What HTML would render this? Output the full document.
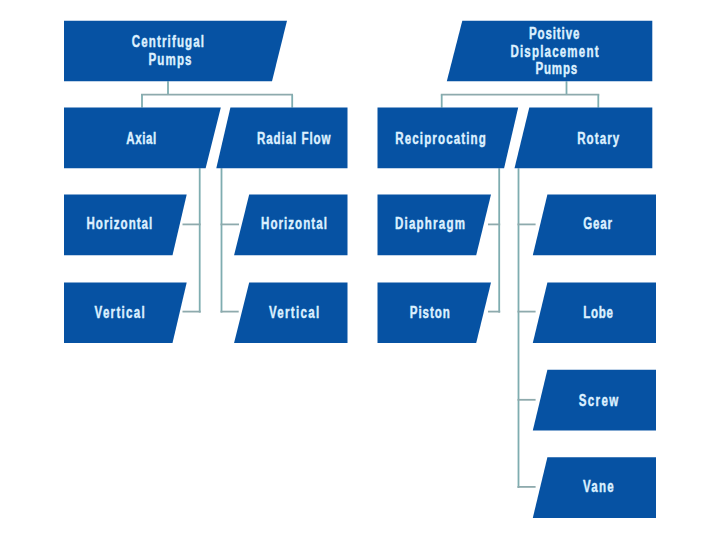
<!DOCTYPE html>
<html><head><meta charset="utf-8"><title>Pump Types</title>
<style>
html,body{margin:0;padding:0;background:#fff;}
body{width:720px;height:539px;overflow:hidden;}
svg{display:block;}
</style></head><body>
<svg width="720" height="539" viewBox="0 0 720 539">
<rect width="720" height="539" fill="#ffffff"/>
<g stroke="#7fadb0" stroke-width="1.8" fill="none">
<line x1="168" y1="81.3" x2="168" y2="94.7"/>
<line x1="141" y1="94.7" x2="293" y2="94.7" stroke="#8eaaad"/>
<line x1="142" y1="94.7" x2="142" y2="107.6"/>
<line x1="292.2" y1="94.7" x2="292.2" y2="107.6"/>
<line x1="566.5" y1="81.3" x2="566.5" y2="94.7"/>
<line x1="440.8" y1="94.7" x2="599.3" y2="94.7" stroke="#8eaaad"/>
<line x1="441.7" y1="94.7" x2="441.7" y2="107.6"/>
<line x1="598.3" y1="94.7" x2="598.3" y2="107.6"/>
<line x1="199.7" y1="168.2" x2="199.7" y2="312.6"/>
<line x1="182.5" y1="224.4" x2="200.7" y2="224.4" stroke="#8eaaad"/>
<line x1="182.5" y1="311.6" x2="200.7" y2="311.6" stroke="#8eaaad"/>
<line x1="221.5" y1="168.2" x2="221.5" y2="312.6"/>
<line x1="220.5" y1="224.4" x2="239" y2="224.4" stroke="#8eaaad"/>
<line x1="220.5" y1="311.6" x2="238.7" y2="311.6" stroke="#8eaaad"/>
<line x1="499.2" y1="168.2" x2="499.2" y2="312.6"/>
<line x1="488" y1="224.4" x2="500.2" y2="224.4" stroke="#8eaaad"/>
<line x1="488" y1="311.6" x2="500.2" y2="311.6" stroke="#8eaaad"/>
<line x1="518.5" y1="168.2" x2="518.5" y2="487.9"/>
<line x1="517.5" y1="224.4" x2="535.6" y2="224.4" stroke="#8eaaad"/>
<line x1="517.5" y1="311.6" x2="535.6" y2="311.6" stroke="#8eaaad"/>
<line x1="517.5" y1="399.8" x2="535.6" y2="399.8" stroke="#8eaaad"/>
<line x1="517.5" y1="486.9" x2="535.6" y2="486.9" stroke="#8eaaad"/>
</g>
<g fill="#0652a3">
<polygon points="64,20.7 287,20.7 272,81.3 64,81.3"/>
<polygon points="462.3,20.7 652.3,20.7 652.3,81.3 446.8,81.3"/>
<polygon points="64,107.6 220.8,107.6 205.6,168.2 64,168.2"/>
<polygon points="230.4,107.6 347.5,107.6 347.5,168.2 216.3,168.2"/>
<polygon points="377.5,107.6 518.2,107.6 504.1,168.2 377.5,168.2"/>
<polygon points="529.3,107.6 652.3,107.6 652.3,168.2 514.5,168.2"/>
<polygon points="64,194.6 186.7,194.6 172.5,255.2 64,255.2"/>
<polygon points="249.2,194.6 347.5,194.6 347.5,255.2 234.1,255.2"/>
<polygon points="377.5,194.6 491,194.6 476.2,255.2 377.5,255.2"/>
<polygon points="64,282.4 186.7,282.4 172.5,343.0 64,343.0"/>
<polygon points="249.2,282.4 347.5,282.4 347.5,343.0 234.1,343.0"/>
<polygon points="377.5,282.4 491,282.4 476.2,343.0 377.5,343.0"/>
<polygon points="547.4,194.6 656,194.6 656,255.2 532.8,255.2"/>
<polygon points="547.4,282.4 656,282.4 656,343.0 532.8,343.0"/>
<polygon points="547.4,369.8 656,369.8 656,430.40000000000003 532.8,430.40000000000003"/>
<polygon points="547.4,457.3 656,457.3 656,517.9 532.8,517.9"/>
</g>
<g fill="#dcf0ff" font-family="Liberation Sans, sans-serif" font-weight="bold" font-size="17" stroke="#dcf0ff" stroke-width="0.45">
<text transform="scale(0.68,1)" x="193.82" y="47" textLength="106.18" lengthAdjust="spacing">Centrifugal</text>
<text transform="scale(0.68,1)" x="218.38" y="65" textLength="63.24" lengthAdjust="spacing">Pumps</text>
<text transform="scale(0.68,1)" x="777.94" y="39" textLength="74.12" lengthAdjust="spacing">Positive</text>
<text transform="scale(0.68,1)" x="750.59" y="57" textLength="129.56" lengthAdjust="spacing">Displacement</text>
<text transform="scale(0.68,1)" x="787.35" y="74" textLength="61.47" lengthAdjust="spacing">Pumps</text>
<text transform="scale(0.68,1)" x="185.74" y="144" textLength="44.12" lengthAdjust="spacing">Axial</text>
<text transform="scale(0.68,1)" x="377.79" y="144" textLength="108.38" lengthAdjust="spacing">Radial Flow</text>
<text transform="scale(0.68,1)" x="581.32" y="144" textLength="133.09" lengthAdjust="spacing">Reciprocating</text>
<text transform="scale(0.68,1)" x="848.82" y="144" textLength="61.76" lengthAdjust="spacing">Rotary</text>
<text transform="scale(0.68,1)" x="127.21" y="229" textLength="96.76" lengthAdjust="spacing">Horizontal</text>
<text transform="scale(0.68,1)" x="383.82" y="229" textLength="96.91" lengthAdjust="spacing">Horizontal</text>
<text transform="scale(0.68,1)" x="580.88" y="229" textLength="102.94" lengthAdjust="spacing">Diaphragm</text>
<text transform="scale(0.68,1)" x="857.79" y="229" textLength="42.35" lengthAdjust="spacing">Gear</text>
<text transform="scale(0.68,1)" x="139.12" y="318" textLength="73.53" lengthAdjust="spacing">Vertical</text>
<text transform="scale(0.68,1)" x="395.44" y="318" textLength="73.97" lengthAdjust="spacing">Vertical</text>
<text transform="scale(0.68,1)" x="602.65" y="318" textLength="58.82" lengthAdjust="spacing">Piston</text>
<text transform="scale(0.68,1)" x="857.79" y="318" textLength="43.53" lengthAdjust="spacing">Lobe</text>
<text transform="scale(0.68,1)" x="851.18" y="406" textLength="57.94" lengthAdjust="spacing">Screw</text>
<text transform="scale(0.68,1)" x="857.21" y="492" textLength="45.44" lengthAdjust="spacing">Vane</text>
</g>
</svg>
</body></html>
